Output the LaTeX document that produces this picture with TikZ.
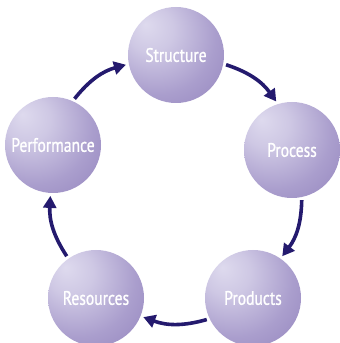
\documentclass[tikz,border=0pt]{standalone}
\usepackage{fontspec}
\newfontfamily\orbfont[FakeStretch=0.8,FakeBold=1]{PT Sans}
\usetikzlibrary{arrows.meta}
\definecolor{orbhi}{RGB}{222,218,238}
\definecolor{orbmid}{RGB}{170,158,205}
\definecolor{orblo}{RGB}{134,117,180}
\definecolor{flowblue}{RGB}{36,26,110}
\pgfdeclareradialshading{orb}{\pgfpoint{-16bp}{16bp}}{color(0bp)=(orbhi); color(12bp)=(orbhi!70!orbmid); color(30bp)=(orbmid); color(56bp)=(orblo); color(75bp)=(orblo)}
\begin{document}
\begin{tikzpicture}[x=1pt,y=1pt,
    orbnode/.style={circle, minimum size=96pt, inner sep=0pt, outer sep=3pt,
        shading=orb, text=white, font=\orbfont\fontsize{19.5}{19.5}\selectfont},
    flow/.style={draw=flowblue, line width=3.6pt,
        -{Triangle[length=12pt,width=13pt]}}]
    \useasboundingbox (0,0) rectangle (340,343);
    \node[orbnode] (structure) at (176,288) {Structure};
    \node[orbnode] (process) at (292,193) {Process};
    \node[orbnode] (products) at (253,45) {Products};
    \node[orbnode] (resources) at (96,45) {Resources};
    \node[orbnode] (performance) at (53,198) {Performance};
    \draw[flow] (structure.-11) to[bend left=18] (process.108);
    \draw[flow] (process.-79) to[bend left=18] (products.55);
    \draw[flow] (products.205) to[bend left=18] (resources.-22);
    \draw[flow] (resources.125) to[bend left=18] (performance.-93);
    \draw[flow] (performance.65) to[bend left=18] (structure.191);
\end{tikzpicture}
\end{document}
